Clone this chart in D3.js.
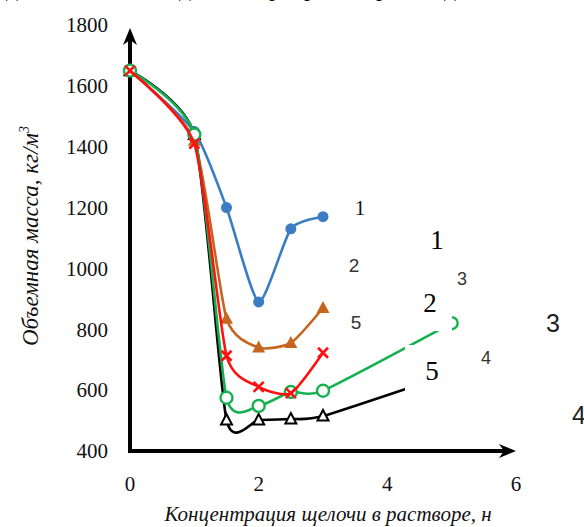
<!DOCTYPE html>
<html><head><meta charset="utf-8">
<script src="https://cdn.jsdelivr.net/npm/d3@7"></script>
<style>body{margin:0;background:#fff;}svg{display:block;}</style>
</head><body>
<svg id="c" width="584" height="527"></svg>
<script>
// ---- data ----
const xA = [0, 1, 1.5, 2, 2.5, 3];
const xB = [0, 1, 1.5, 2, 2.5, 3, 5];
const s1 = [1650, 1450, 1200, 890, 1130, 1170];        // blue
const s2 = [1650, 1420, 835, 740, 755, 870];           // orange
const s5 = [1650, 1410, 713, 611, 590, 723];           // red
const s3 = [1650, 1440, 575, 548, 594, 598, 820];      // green
const s4 = [1650, 1440, 502, 502, 505, 515, 655];      // black
const yTicks = [400, 600, 800, 1000, 1200, 1400, 1600, 1800];
const xTicks = [0, 2, 4, 6];
const yTitle = "Объемная масса, кг/м";
const xTitle = "Концентрация щелочи в растворе, н";

const svg = d3.select("#c");
const x = d3.scaleLinear().domain([0, 6]).range([130, 516]);
const y = d3.scaleLinear().domain([400, 1800]).range([451, 25]);

const serif = "'Liberation Serif','Times New Roman',serif";
const sans = "'Liberation Sans',Arial,sans-serif";

// top clipped fragments
[[12,"д"],[185,"д"],[275,"р"],[310,"р"],[382,"р"],[450,"д"]].forEach(([px,t])=>{
  svg.append("text").attr("x",px).attr("y",-4).attr("text-anchor","middle")
    .attr("font-family",serif).attr("font-size",24).attr("fill","#000").text(t);
});

// y tick labels
svg.append("g").selectAll("text").data(yTicks).join("text")
  .attr("x", 108).attr("y", d => y(d)).attr("dy", "0.35em")
  .attr("text-anchor", "end").attr("font-family", serif).attr("font-size", 21)
  .attr("fill", "#111").text(d => d);
// x tick labels
svg.append("g").selectAll("text").data(xTicks).join("text")
  .attr("x", d => x(d)).attr("y", 491)
  .attr("text-anchor", "middle").attr("font-family", serif).attr("font-size", 21)
  .attr("fill", "#111").text(d => d);

// titles
const yt = svg.append("text").attr("transform", "translate(38,236) rotate(-90)")
  .attr("text-anchor", "middle").attr("font-family", serif).attr("font-style", "italic")
  .attr("font-size", 23).attr("fill", "#111");
yt.append("tspan").text(yTitle);
yt.append("tspan").attr("dy", -9).attr("font-size", 14).text("3");
svg.append("text").attr("x", 328).attr("y", 521).attr("text-anchor", "middle")
  .attr("font-family", serif).attr("font-style", "italic").attr("font-size", 21)
  .attr("fill", "#111").text(xTitle);

// axes
svg.append("line").attr("x1", x(0)).attr("x2", x(6) - 10).attr("y1", y(400)).attr("y2", y(400))
  .attr("stroke", "#000").attr("stroke-width", 4);
svg.append("line").attr("x1", x(0)).attr("x2", x(0)).attr("y1", y(400) + 2).attr("y2", 40)
  .attr("stroke", "#000").attr("stroke-width", 4);
const tipY = 28, tipX = x(6);
svg.append("path").attr("d", `M${x(0)},${tipY} L${x(0)+7},${tipY+17} L${x(0)},${tipY+12} L${x(0)-7},${tipY+17} Z`).attr("fill", "#000");
svg.append("path").attr("d", `M${tipX},${y(400)} L${tipX-17},${y(400)-7} L${tipX-12},${y(400)} L${tipX-17},${y(400)+7} Z`).attr("fill", "#000");

const line = d3.line().curve(d3.curveCardinal.tension(0.4)).x(d => x(d[0])).y(d => y(d[1]));
function series(xs, ys, color, marker) {
  const pts = xs.map((v, i) => [v, ys[i]]);
  svg.append("path").datum(pts).attr("d", line).attr("fill", "none")
    .attr("stroke", color).attr("stroke-width", 2.6);
  const g = svg.append("g");
  pts.forEach(p => {
    const cx = x(p[0]), cy = y(p[1]);
    if (marker === "dot") g.append("circle").attr("cx", cx).attr("cy", cy).attr("r", 5.5).attr("fill", color);
    if (marker === "ring") g.append("circle").attr("cx", cx).attr("cy", cy).attr("r", 6).attr("fill", "#fff").attr("stroke", color).attr("stroke-width", 2.4);
    if (marker === "tri") g.append("path").attr("d", `M${cx},${cy-7} L${cx+6.5},${cy+5} L${cx-6.5},${cy+5} Z`).attr("fill", color);
    if (marker === "otri") g.append("path").attr("d", `M${cx},${cy-6} L${cx+5.5},${cy+4.5} L${cx-5.5},${cy+4.5} Z`).attr("fill", "#fff").attr("stroke", color).attr("stroke-width", 2);
    if (marker === "x") g.append("path").attr("d", `M${cx-5},${cy-5} L${cx+5},${cy+5} M${cx+5},${cy-5} L${cx-5},${cy+5}`).attr("stroke", color).attr("stroke-width", 2.6);
  });
}
series(xA, s1, "#3b7cc2", "dot");
series(xA, s2, "#c5651e", "tri");
series(xB, s4, "#000000", "otri");
series(xB, s3, "#16b050", "ring");
series(xA, s5, "#ff1010", "x");

// white patches with overlapping labels
svg.append("rect").attr("x", 405).attr("y", 283).attr("width", 47).attr("height", 48).attr("fill", "#fff");
svg.append("rect").attr("x", 405).attr("y", 345).attr("width", 57).attr("height", 47).attr("fill", "#fff");

const labels = [
  [360, 208, "1", serif, 21, "#111"],
  [354, 265, "2", sans, 19, "#333"],
  [356, 322, "5", sans, 19, "#333"],
  [462, 279, "3", sans, 18, "#333"],
  [486, 358, "4", sans, 18, "#333"],
  [437, 240, "1", serif, 27, "#000"],
  [430, 303, "2", serif, 27, "#000"],
  [432, 371, "5", serif, 27, "#000"],
  [553, 323, "3", sans, 25, "#222"],
  [579, 415, "4", sans, 25, "#222"]
];
labels.forEach(([lx, ly, t, f, s, c]) => {
  svg.append("text").attr("x", lx).attr("y", ly).attr("dy", "0.35em").attr("text-anchor", "middle")
    .attr("font-family", f).attr("font-size", s).attr("fill", c).text(t);
});
</script>
</body></html>
